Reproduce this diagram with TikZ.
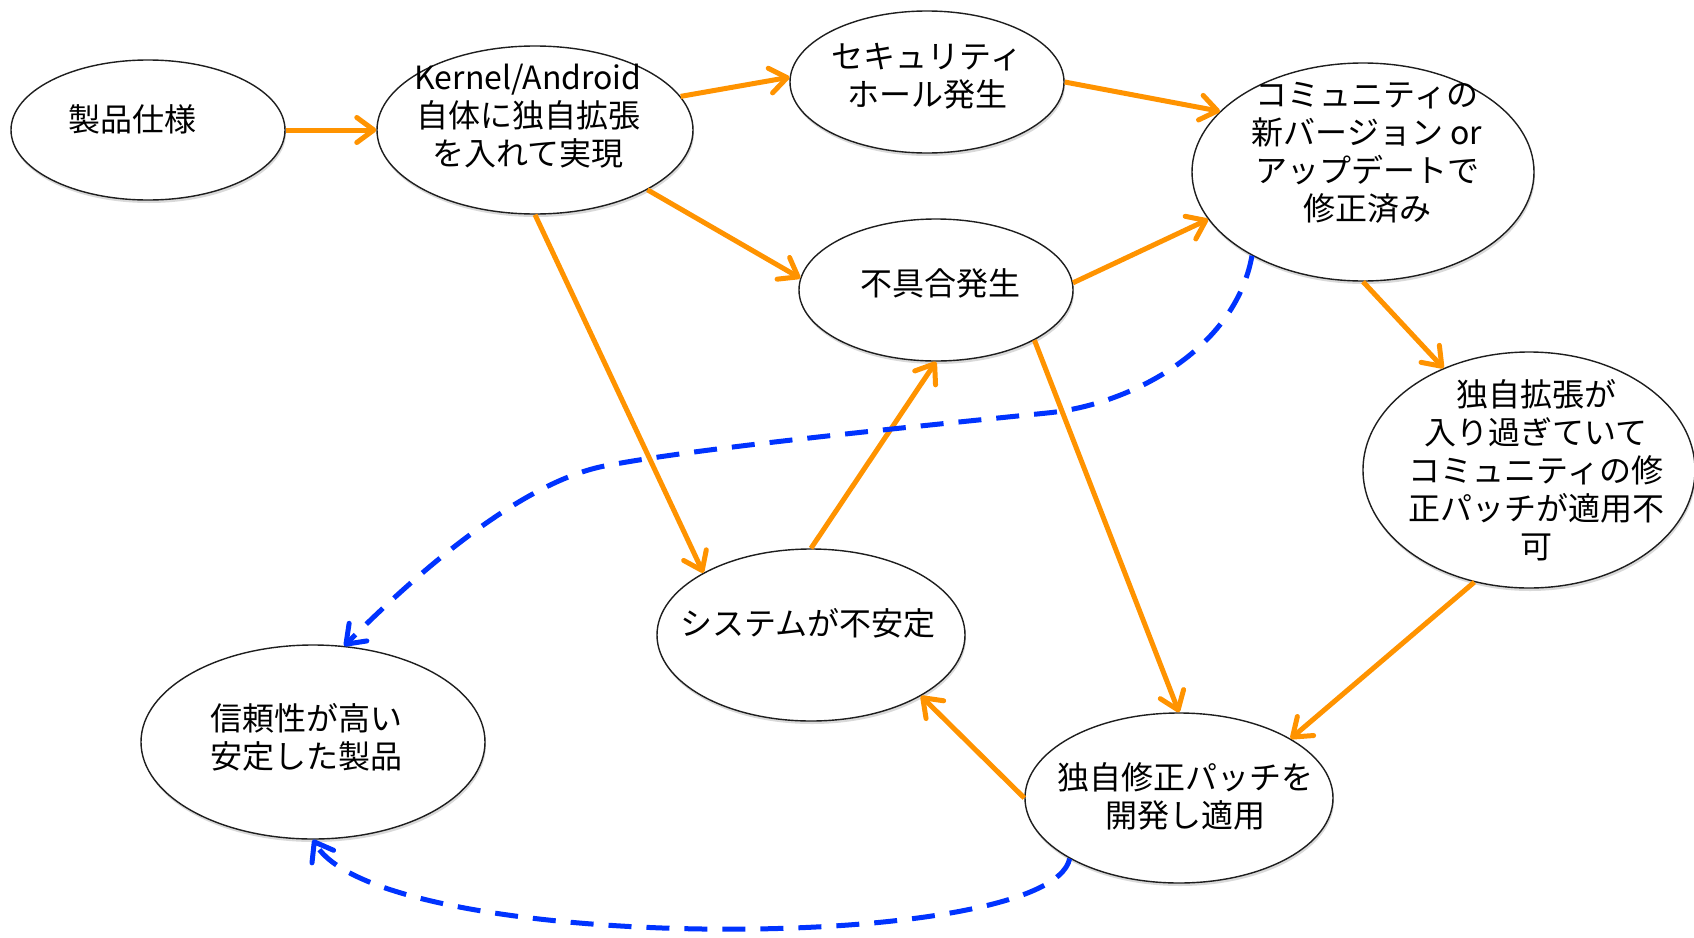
\documentclass[tikz,border=0pt]{standalone}
\usepackage{fontspec}
\setmainfont{Noto Sans CJK JP}
\usetikzlibrary{arrows.meta,shapes.geometric,shadows}
\definecolor{arrorange}{RGB}{255,147,0}
\definecolor{dashblue}{RGB}{0,51,255}
\definecolor{rim}{RGB}{30,30,30}
\begin{document}
\begin{tikzpicture}[x=1pt,y=-1pt,
  bubble/.style={ellipse, draw=rim, line width=1.4pt, fill=white, inner sep=0pt,
    drop shadow={shadow xshift=1pt, shadow yshift=-3pt, opacity=0.15, fill=black}},
  txt/.style={font=\fontsize{32}{38}\selectfont, align=center, inner sep=0pt},
  flow/.style={draw=arrorange, line width=5pt, -{Straight Barb[length=17pt,width=25pt,round]}},
  back/.style={draw=dashblue, line width=5pt, dash pattern=on 23pt off 15pt,
    -{Straight Barb[length=17pt,width=25pt,round]}}]
\useasboundingbox (0,0) rectangle (1694,937);
\fill[white] (0,0) rectangle (1694,937);
% ellipses
\node[bubble, minimum width=274pt, minimum height=140pt] (spec) at (148,130) {};
\node[bubble, minimum width=316pt, minimum height=168pt] (kernel) at (535,130) {};
\node[bubble, minimum width=274pt, minimum height=142pt] (sec) at (927,82) {};
\node[bubble, minimum width=342pt, minimum height=218pt] (comm) at (1363,172) {};
\node[bubble, minimum width=274pt, minimum height=142pt] (bug) at (936,290) {};
\node[bubble, minimum width=332pt, minimum height=236pt] (ext) at (1529,470) {};
\node[bubble, minimum width=308pt, minimum height=172pt] (sys) at (811,635) {};
\node[bubble, minimum width=344pt, minimum height=194pt] (rel) at (313,742) {};
\node[bubble, minimum width=308pt, minimum height=170pt] (fix) at (1179,798) {};
% texts
\node[txt] (specT) at (132,119) {製品仕様};
\node[txt] (kernelT) at (528,116) {Kernel/Android\\自体に独自拡張\\を入れて実現};
\node[txt] (secT) at (927,76) {セキュリティ\\ホール発生};
\node[txt] (commT) at (1367,153) {コミュニティの\\新バージョン or\\アップデートで\\修正済み};
\node[txt] (bugT) at (940,283) {不具合発生};
\node[txt] (extT) at (1536,470) {独自拡張が\\入り過ぎていて\\コミュニティの修\\正パッチが適用不\\可};
\node[txt] (sysT) at (808,623) {システムが不安定};
\node[txt] (relT) at (306,737) {信頼性が高い\\安定した製品};
\node[txt] (fixT) at (1185,796) {独自修正パッチを\\開発し適用};
% orange connectors
\draw[flow] (spec) -- (kernel);
\draw[flow] (kernel.13) -- (sec.178);
\draw[flow] (sec.0) -- (comm.157);
\draw[flow] (kernel.-28) -- (bug.175);
\draw[flow] (kernel.-90) -- (sys.150);
\draw[flow] (bug.3) -- (comm.197);
\draw[flow] (comm.-90) -- (ext.130);
\draw[flow] (ext.244) -- (fix.28);
\draw[flow] (bug.-27) -- (fix.90);
\draw[flow] (sys.90) -- (bug.-90);
\draw[flow] (fix.180) -- (sys.-29);
% blue dashed connectors
\coordinate (b1) at (1047,413);
\coordinate (b2) at (610,465);
\draw[back] (comm.217) .. controls (1235,350) and (1130,405) .. (b1)
  .. controls (900,428) and (700,448) .. (b2)
  .. controls (530,478) and (430,560) .. (rel.72);
\draw[back] (fix.209) .. controls (1050,955) and (380,955) .. (rel.-90);
\end{tikzpicture}
\end{document}
